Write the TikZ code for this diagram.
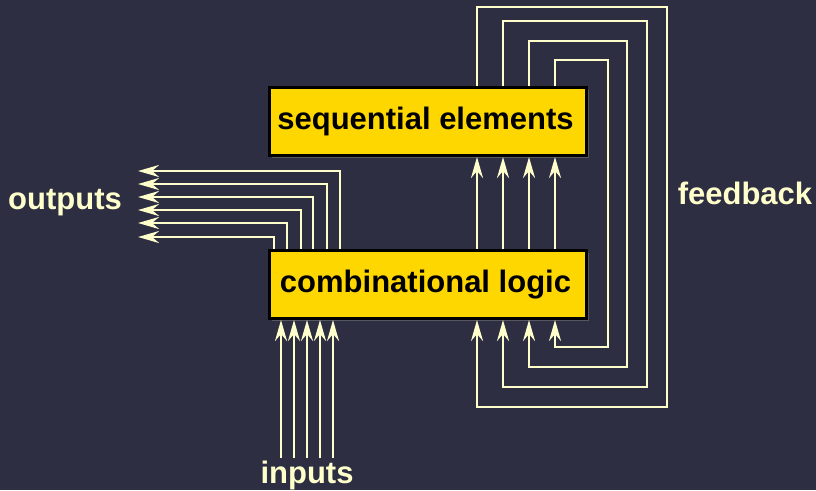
\documentclass[tikz,border=0pt]{standalone}
\usepackage{fontspec}
\setmainfont{Liberation Sans}
\usepackage{tikz}
\usetikzlibrary{arrows.meta,shadows}

\definecolor{bgnavy}{HTML}{2E2E43}
\definecolor{wirecream}{HTML}{FFFFCC}
\definecolor{boxgold}{HTML}{FFD700}

\begin{document}
\begin{tikzpicture}[
    x=1pt, y=-1pt,
    block/.style={rectangle, draw=black, line width=3pt, fill=boxgold, minimum width=317pt, minimum height=68pt, font=\fontsize{31}{36}\selectfont\bfseries, drop shadow={shadow xshift=2pt, shadow yshift=-2pt, opacity=0.5}},
    wire/.style={draw=wirecream, line width=2.6pt},
    arrow/.style={wire, -{Stealth[length=21pt, width=12pt, inset=7pt]}},
    label/.style={text=wirecream, font=\fontsize{31}{36}\selectfont\bfseries}
]

% Background
\fill[bgnavy] (0,0) rectangle (816,490);
\useasboundingbox (0,0) rectangle (816,490);

% Blocks
\node[block] (seq) at (428,121.5) {\hspace*{-5pt}sequential elements};
\node[block] (comb) at (428,284.5) {\hspace*{-5pt}combinational logic};

% Labels
\node[label] (outputs) at (65,203) {outputs};
\node[label] (inputs) at (307,475) {inputs};
\node[label] (feedback) at (745,193) {feedback};

% Next state into the sequential elements
\foreach \x in {477,503,529,555}
    \draw[arrow] (comb.north -| \x,0) -- (seq.south -| \x,0);

% Feedback loops back into the logic
\foreach \x/\t/\r/\b in {477/7/667/407, 503/21/647/387, 529/41/627/367, 555/60/608/347}
    \draw[arrow] (seq.north -| \x,0) -- (\x,\t) -- (\r,\t) -- (\r,\b) -- (\x,\b) -- (comb.south -| \x,0);

% Outputs
\foreach \x/\y in {274/237, 287/223, 301/210, 313/197, 327/184, 340/171}
    \draw[arrow] (comb.north -| \x,0) -- (\x,\y) -- (138,\y);

% Inputs
\foreach \x in {281,294,307,320,333}
    \draw[arrow] (\x,458) -- (comb.south -| \x,0);

\end{tikzpicture}
\end{document}
